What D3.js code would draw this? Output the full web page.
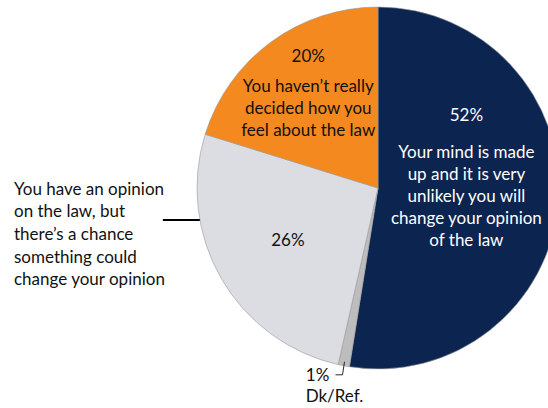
<!DOCTYPE html>
<html>
<head>
<meta charset="utf-8">
<script src="https://cdn.jsdelivr.net/npm/d3@7"></script>
<style>
  html, body { margin: 0; padding: 0; background: #fff; }
  svg { display: block; }
  text { font-family: Lato, "Open Sans", sans-serif; font-size: 17px; }
</style>
</head>
<body>
<svg id="chart" width="548" height="408"></svg>
<script>
// Share of respondents by how settled their view of the law is
const categories = [
  "Your mind is made up and it is very unlikely you will change your opinion of the law",
  "Dk/Ref.",
  "You have an opinion on the law, but there\u2019s a chance something could change your opinion",
  "You haven\u2019t really decided how you feel about the law"
];
const values = [52, 1, 26, 20];
const colors = ["#0b2550", "#bdbdbd", "#dcdce3", "#f4891f"];

const svg = d3.select("#chart");
const cx = 378, cy = 188, R = 181;
const g = svg.append("g").attr("transform", `translate(${cx},${cy})`);

const pie = d3.pie().sort(null).value(d => d)(values);
const arc = d3.arc().innerRadius(0).outerRadius(R);

g.selectAll("path.slice")
  .data(pie)
  .join("path")
  .attr("class", "slice")
  .attr("d", arc)
  .attr("fill", (d, i) => colors[i])
  .attr("stroke", "#9a9a9a")
  .attr("stroke-width", 0.6);

// point at radius r, a fraction t of the way through a slice's angle
function slicePoint(d, r, t) {
  const a = d.startAngle + (d.endAngle - d.startAngle) * (t === undefined ? 0.5 : t);
  return [Math.sin(a) * r, -Math.cos(a) * r];
}

function block(p, lines, offsets, fill, anchor) {
  const t = g.append("text")
    .attr("text-anchor", anchor || "middle")
    .attr("fill", fill);
  lines.forEach((s, i) => {
    t.append("tspan").attr("x", p[0]).attr("y", p[1] + offsets[i]).text(s);
  });
}

// Navy slice: value and description
block(slicePoint(pie[0], R * 0.49),
  [values[0] + "%", "Your mind is made", "up and it is very", "unlikely you will", "change your opinion", "of the law"],
  [-74, -37, -15, 7, 29, 51], "#ffffff");

// Orange slice
block(slicePoint(pie[3], R * 0.65),
  [values[3] + "%", "You haven\u2019t really", "decided how you", "feel about the law"],
  [-31, -1, 21, 43], "#111111");

// Light grey slice: value inside, description outside on the left
block(slicePoint(pie[2], R * 0.575), [values[2] + "%"], [6], "#111111");

const edge = slicePoint(pie[2], R, 0.71);
const ly = Math.round(edge[1]);
g.append("line")
  .attr("x1", edge[0] - 37).attr("x2", edge[0])
  .attr("y1", ly).attr("y2", ly)
  .attr("stroke", "#000").attr("stroke-width", 2);

block([14 - cx, 0],
  ["You have an opinion", "on the law, but", "there\u2019s a chance", "something could", "change your opinion"],
  [7, 29, 52, 75, 97], "#111111", "start");

// Dk/Ref. slice: small label below with a bent leader
const dk = pie[1];
const dkEdge = slicePoint(dk, R - 4);
g.append("path")
  .attr("d", `M${dkEdge[0]},${dkEdge[1]} L${dkEdge[0] - 2},${dkEdge[1] + 13} L${dkEdge[0] - 9},${dkEdge[1] + 13}`)
  .attr("fill", "none").attr("stroke", "#111").attr("stroke-width", 0.9);

block([dkEdge[0] - 27, dkEdge[1]], [values[1] + "%"], [19], "#111111");
block([dkEdge[0] - 10, dkEdge[1]], ["Dk/Ref."], [40], "#111111");
</script>
</body>
</html>
